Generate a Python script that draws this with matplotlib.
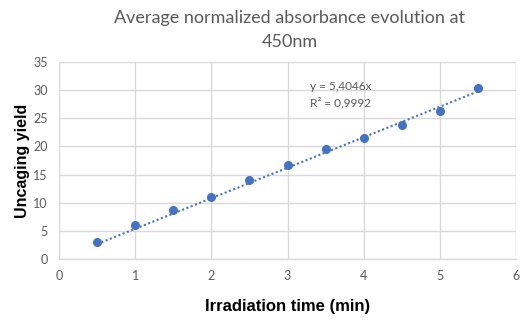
import numpy as np
import matplotlib
matplotlib.use("Agg")
import matplotlib.pyplot as plt

# Irradiation time (min) and uncaging yield
time_min = [0.5, 1.0, 1.5, 2.0, 2.5, 3.0, 3.5, 4.0, 4.5, 5.0, 5.5]
uncaging_yield = [3.0, 6.0, 8.7, 11.0, 14.0, 16.7, 19.5, 21.5, 23.7, 26.3, 30.3]
slope = 5.4046
r_squared = 0.9992

x_ticks = [0, 1, 2, 3, 4, 5, 6]
y_ticks = [0, 5, 10, 15, 20, 25, 30, 35]

blue = "#4472C4"
grey_text = "#595959"
grid_col = "#D9D9D9"

fig = plt.figure(figsize=(5.27, 3.20), dpi=100)
ax = fig.add_axes([59 / 527, 1 - 259.3 / 320, (516 - 59) / 527, (259.3 - 61.7) / 320])

# Linear trendline through the origin
xt = np.array([min(time_min), max(time_min)])
ax.plot(xt, slope * xt, linestyle=(0, (1, 1.2)), color=blue, linewidth=1.5, zorder=2)
ax.plot(time_min, uncaging_yield, "o", color=blue, markersize=5.5, zorder=3)

ax.set_xlim(0, 6)
ax.set_ylim(0, 35)
ax.set_xticks(x_ticks)
ax.set_yticks(y_ticks)
ax.grid(True, color=grid_col, linewidth=1.0)
ax.set_axisbelow(True)
for side in ["top", "right", "left"]:
    ax.spines[side].set_visible(False)
ax.spines["bottom"].set_color(grid_col)
ax.spines["bottom"].set_linewidth(1.0)
ax.tick_params(length=0, colors=grey_text, labelsize=9, pad=8)
for lbl in ax.get_xticklabels() + ax.get_yticklabels():
    lbl.set_fontfamily("Lato")

ax.set_xlabel("Irradiation time (min)", fontsize=12, fontweight="bold",
              family="Liberation Sans", labelpad=12)
ax.set_ylabel("Uncaging yield", fontsize=11.5, fontweight="bold",
              family="Liberation Sans", labelpad=2.5)

fig.text(290 / 527, 1 - 18 / 320, "Average normalized absorbance evolution at",
         ha="center", va="center", fontsize=13, color=grey_text, family="Lato")
fig.text(290 / 527, 1 - 42 / 320, "450nm",
         ha="center", va="center", fontsize=13, color=grey_text, family="Lato")

ax.text(3.3, 29.2, f"y = {slope:.4f}x".replace(".", ",") + "\n"
        + f"R² = {r_squared:.4f}".replace(".", ","),
        fontsize=8.5, color=grey_text, family="Lato", va="center", ha="left",
        linespacing=1.5)

fig.savefig("out.png", dpi=100)
